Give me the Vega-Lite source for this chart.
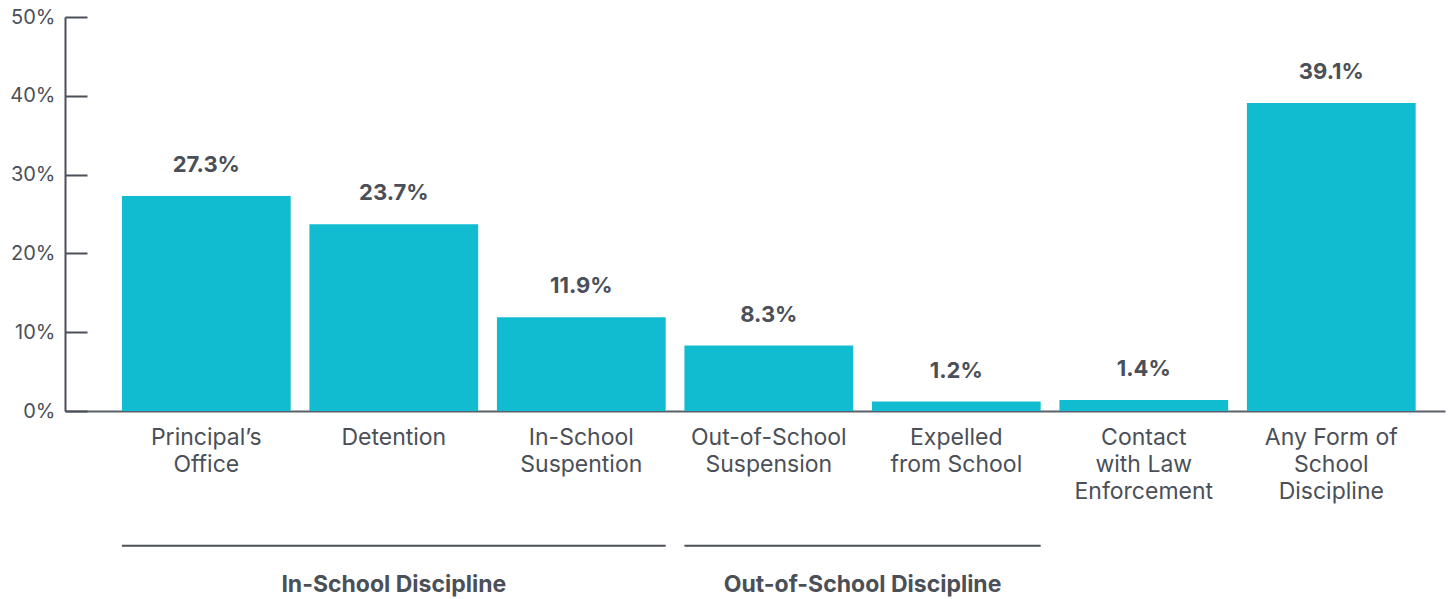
{
  "$schema": "https://vega.github.io/schema/vega-lite/v6.json",
  "width": 1380,
  "height": 394,
  "autosize": "none",
  "padding": {"left": 65, "top": 17, "right": 10, "bottom": 188},
  "config": {"font": "Inter", "view": {"stroke": null}},
  "datasets": {
    "bars": [
      {"category": "Principal’s\nOffice", "value": 27.3, "label": "27.3%"},
      {"category": "Detention", "value": 23.7, "label": "23.7%"},
      {"category": "In-School\nSuspention", "value": 11.9, "label": "11.9%"},
      {"category": "Out-of-School\nSuspension", "value": 8.3, "label": "8.3%"},
      {"category": "Expelled\nfrom School", "value": 1.2, "label": "1.2%"},
      {"category": "Contact\nwith Law\nEnforcement", "value": 1.4, "label": "1.4%"},
      {"category": "Any Form of\nSchool\nDiscipline", "value": 39.1, "label": "39.1%"}
    ],
    "groups": [
      {"group": "In-School Discipline", "from": "Principal’s\nOffice", "to": "In-School\nSuspention"},
      {"group": "Out-of-School Discipline", "from": "Out-of-School\nSuspension", "to": "Expelled\nfrom School"}
    ],
    "g1": [{"group": "In-School Discipline", "anchor": "Detention"}],
    "g2": [{"group": "Out-of-School Discipline", "anchor": "Out-of-School\nSuspension"}]
  },
  "layer": [
    {
      "data": {"name": "bars"},
      "mark": {"type": "bar", "color": "#12bcd0"},
      "encoding": {
        "x": {
          "field": "category",
          "type": "nominal",
          "sort": null,
          "scale": {
            "domain": ["Principal’s\nOffice", "Detention", "In-School\nSuspention", "Out-of-School\nSuspension", "Expelled\nfrom School", "Contact\nwith Law\nEnforcement", "Any Form of\nSchool\nDiscipline"],
            "paddingInner": 0.1,
            "paddingOuter": 0.23,
            "align": 0.66
          },
          "axis": {
            "title": null,
            "ticks": false,
            "domainColor": "#5b606a",
            "domainWidth": 2,
            "labelAngle": 0,
            "labelExpr": "split(datum.label, '\\n')",
            "labelFontSize": 23,
            "labelColor": "#4b4f58",
            "labelLineHeight": 27,
            "labelPadding": 15,
            "labelBaseline": "top"
          }
        },
        "y": {
          "field": "value",
          "type": "quantitative",
          "scale": {"domain": [0, 50], "nice": false},
          "axis": {
            "title": null,
            "grid": false,
            "values": [0, 10, 20, 30, 40, 50],
            "labelExpr": "datum.value + '%'",
            "tickSize": -22,
            "tickWidth": 2,
            "tickColor": "#4b4f58",
            "domainColor": "#4b4f58",
            "domainWidth": 2,
            "labelPadding": 32,
            "labelFontSize": 20,
            "labelColor": "#4b4f58"
          }
        }
      }
    },
    {
      "data": {"name": "bars"},
      "mark": {"type": "text", "dy": -24, "baseline": "alphabetic", "fontSize": 22, "fontWeight": "bold", "color": "#4b4f58"},
      "encoding": {
        "x": {"field": "category", "type": "nominal"},
        "y": {"field": "value", "type": "quantitative"},
        "text": {"field": "label"}
      }
    },
    {
      "data": {"name": "groups"},
      "mark": {"type": "rule", "strokeWidth": 2, "color": "#4b4f58"},
      "encoding": {
        "x": {"field": "from", "type": "nominal", "bandPosition": 0},
        "x2": {"field": "to", "bandPosition": 1},
        "y": {"datum": -17.1, "type": "quantitative"}
      }
    },
    {
      "data": {"name": "g1"},
      "mark": {"type": "text", "baseline": "alphabetic", "fontSize": 23, "fontWeight": "bold", "color": "#4b4f58"},
      "encoding": {
        "x": {"field": "anchor", "type": "nominal", "bandPosition": 0.5},
        "y": {"datum": -23, "type": "quantitative"},
        "text": {"field": "group"}
      }
    },
    {
      "data": {"name": "g2"},
      "mark": {"type": "text", "baseline": "alphabetic", "fontSize": 23, "fontWeight": "bold", "color": "#4b4f58"},
      "encoding": {
        "x": {"field": "anchor", "type": "nominal", "bandPosition": 1.0556},
        "y": {"datum": -23, "type": "quantitative"},
        "text": {"field": "group"}
      }
    }
  ]
}
